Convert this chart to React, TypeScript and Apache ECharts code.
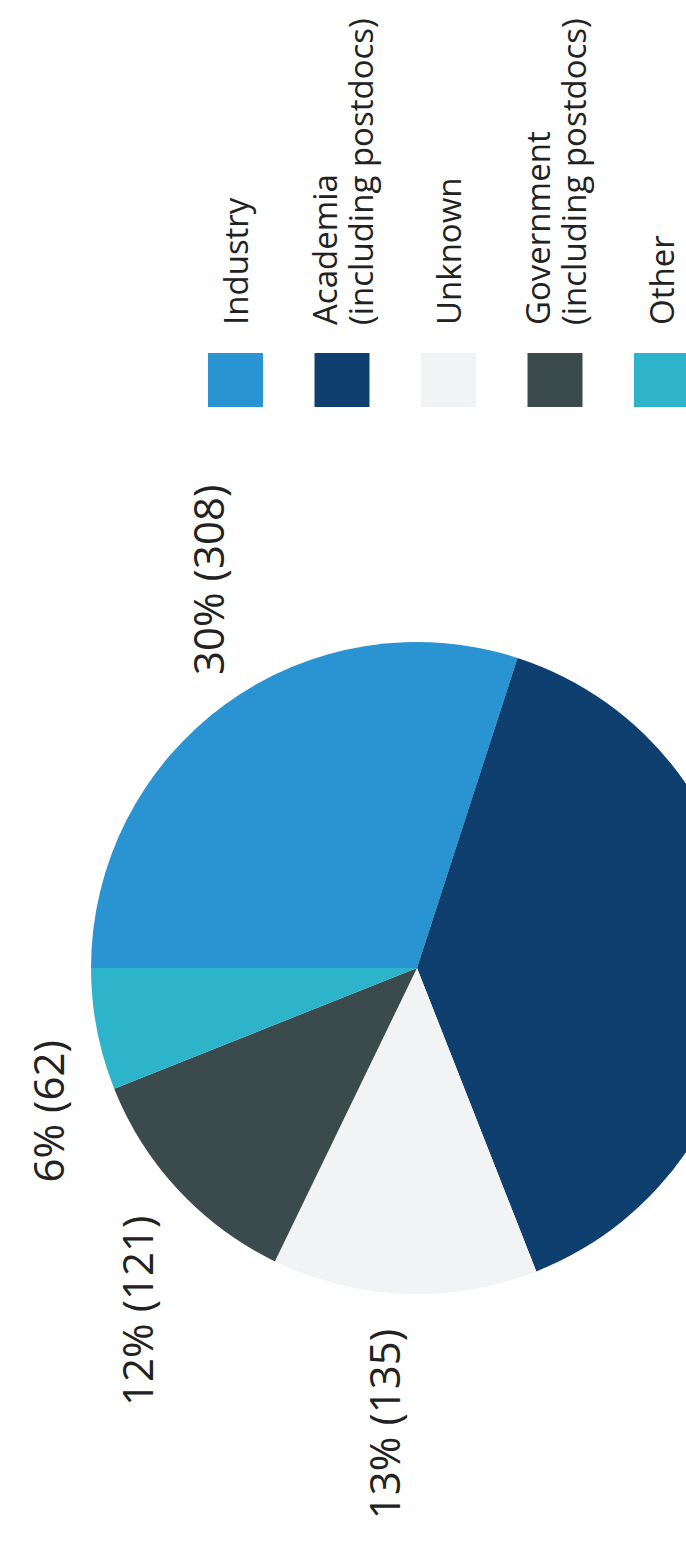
import React, { useEffect, useRef } from "react";
import * as echarts from "echarts";

// Career destinations (photo of a printed page, rotated 90° counter-clockwise)
const categories = [
  "Industry",
  "Academia\n(including postdocs)",
  "Unknown",
  "Government\n(including postdocs)",
  "Other",
];
const counts = [308, 401, 135, 121, 62];
const sliceColors = ["#2A93D2", "#0F3F6E", "#F1F3F4", "#3B4A4D", "#2EB4CA"];
// the Academia label lies outside the cropped photo
const labelVisible = [true, false, true, true, true];

const CHART_W = 1558;
const CHART_H = 686;
const PIE_CX = 590;
const PIE_CY = 417;

export default function App() {
  const ref = useRef<HTMLDivElement>(null);

  useEffect(() => {
    if (!ref.current) return;
    const chart = echarts.init(ref.current, undefined, { renderer: "svg" });
    const font = "'Open Sans', 'Noto Sans', sans-serif";
    chart.setOption({
      animation: false,
      backgroundColor: "#ffffff",
      color: sliceColors,
      legend: {
        orient: "vertical",
        left: 1151,
        top: 208,
        height: 900,
        padding: 0,
        itemWidth: 54,
        itemHeight: 55,
        itemGap: 43,
        icon: "rect",
        selectedMode: false,
        data: categories,
        textStyle: {
          fontFamily: font,
          fontSize: 33,
          lineHeight: 36,
          color: "#222222",
          padding: [0, 0, 0, 23],
        },
      },
      series: [
        {
          type: "pie",
          center: [PIE_CX, PIE_CY],
          radius: 326,
          startAngle: 90,
          clockwise: true,
          avoidLabelOverlap: false,
          itemStyle: { borderWidth: 0 },
          label: {
            show: true,
            position: "outside",
            fontFamily: font,
            fontSize: 42,
            color: "#222222",
            formatter: (p: any) => `${Math.round(p.percent)}% (${p.value})`,
          },
          labelLine: { show: false, length: 30, length2: 0 },
          labelLayout: (params: any) => {
            const r = params.labelRect;
            return r.x + r.width / 2 < PIE_CX ? { dy: -20 } : {};
          },
          emphasis: { disabled: true },
          data: categories.map((name, i) => ({
            name,
            value: counts[i],
            itemStyle: { color: sliceColors[i] },
            label: { show: labelVisible[i] },
          })),
        },
      ],
    });
    return () => chart.dispose();
  }, []);

  return (
    <div
      style={{
        position: "absolute",
        left: 0,
        top: 0,
        width: CHART_H,
        height: CHART_W,
        overflow: "hidden",
        background: "#ffffff",
      }}
    >
      <div
        ref={ref}
        style={{
          position: "absolute",
          left: 0,
          top: 0,
          width: CHART_W,
          height: CHART_H,
          transformOrigin: "0 0",
          transform: `translate(0px, ${CHART_W}px) rotate(-90deg)`,
        }}
      />
    </div>
  );
}
